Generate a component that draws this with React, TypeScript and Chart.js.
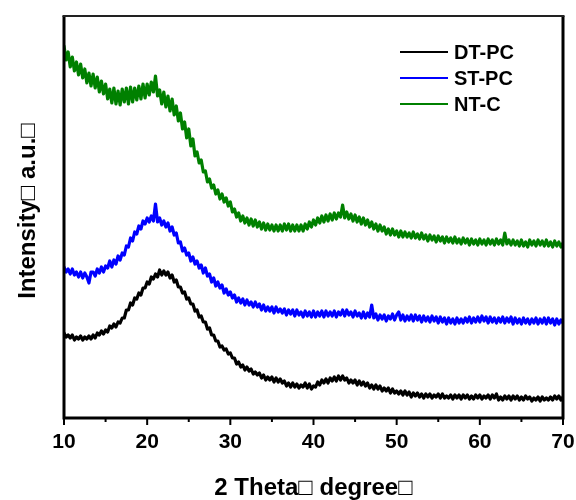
import React, { useEffect, useRef } from "react";
import { Chart, registerables } from "chart.js";

Chart.register(...registerables);

// 2θ from 10° to 70° in 0.25° steps (each row below = 2°)
const twoTheta: number[] = Array.from({ length: 241 }, (_, i) => 10 + i * 0.25);

const seriesNames = ["DT-PC", "ST-PC", "NT-C"];
const seriesColors = ["#000000", "#0000ff", "#008000"];

const dtpc = [
  85, 81, 83, 80, 83, 78, 81, 79,
  82, 78, 81, 79, 82, 79, 83, 80,
  85, 83, 87, 84, 88, 86, 92, 90,
  94, 91, 96, 95, 100, 100, 108, 108,
  115, 113, 120, 119, 125, 123, 130, 130,
  136, 134, 141, 139, 144, 141, 148, 143,
  147, 143, 146, 140, 143, 136, 138, 131,
  131, 125, 126, 119, 120, 114, 114, 107,
  108, 101, 102, 96, 96, 89, 90, 83,
  83, 77, 77, 71, 72, 68, 69, 64,
  65, 60, 60, 54, 56, 51, 53, 48,
  51, 47, 49, 44, 46, 43, 45, 40,
  43, 38, 41, 38, 41, 36, 40, 36,
  39, 35, 37, 32, 35, 31, 35, 31,
  34, 30, 33, 31, 35, 30, 34, 29,
  32, 31, 36, 33, 38, 35, 39, 35,
  40, 37, 41, 37, 42, 38, 42, 38,
  40, 35, 38, 35, 38, 33, 37, 33,
  36, 32, 35, 30, 33, 29, 33, 29,
  32, 27, 30, 27, 30, 25, 29, 25,
  27, 24, 27, 23, 27, 23, 26, 21,
  25, 22, 25, 21, 24, 20, 24, 21,
  24, 20, 23, 21, 24, 20, 24, 20,
  22, 20, 23, 19, 23, 20, 23, 19,
  23, 20, 23, 19, 22, 19, 23, 20,
  23, 19, 22, 20, 23, 19, 23, 20,
  24, 18, 21, 18, 22, 19, 22, 18,
  22, 19, 22, 18, 21, 18, 22, 19,
  21, 17, 20, 18, 21, 17, 21, 18,
  20, 18, 21, 18, 22, 19, 22, 18,
  21,
];

const stpc = [
  151, 146, 149, 144, 149, 143, 146, 141,
  146, 140, 145, 141, 135, 146, 146, 142,
  149, 145, 151, 146, 152, 150, 157, 151,
  158, 154, 162, 158, 165, 163, 172, 171,
  180, 177, 186, 184, 192, 189, 197, 194,
  200, 196, 202, 197, 214, 196, 200, 193,
  197, 191, 195, 187, 191, 183, 185, 175,
  176, 167, 170, 163, 165, 157, 161, 154,
  157, 150, 153, 145, 150, 142, 144, 136,
  140, 132, 136, 130, 133, 125, 129, 123,
  126, 120, 123, 116, 120, 115, 119, 113,
  118, 113, 116, 111, 116, 111, 114, 108,
  113, 107, 111, 107, 111, 105, 111, 106,
  109, 105, 109, 103, 108, 104, 108, 102,
  108, 103, 106, 101, 107, 102, 106, 101,
  107, 101, 106, 102, 107, 101, 107, 102,
  106, 102, 107, 101, 106, 103, 108, 102,
  108, 103, 106, 101, 107, 102, 105, 100,
  106, 100, 105, 101, 113, 100, 104, 98,
  103, 99, 103, 97, 102, 99, 104, 98,
  103, 106, 98, 103, 97, 102, 98, 103,
  97, 103, 98, 102, 96, 102, 97, 101,
  96, 102, 97, 101, 95, 101, 96, 100,
  94, 100, 95, 99, 94, 100, 95, 99,
  95, 100, 96, 101, 95, 100, 96, 101,
  96, 102, 97, 101, 95, 101, 96, 100,
  95, 100, 96, 101, 95, 100, 96, 101,
  94, 100, 95, 99, 94, 100, 95, 99,
  94, 99, 95, 100, 94, 99, 95, 100,
  94, 100, 95, 99, 93, 99, 94, 98,
  95,
];

const ntc = [
  372, 358, 366, 351, 361, 347, 356, 343,
  354, 340, 349, 335, 345, 332, 344, 330,
  341, 326, 337, 324, 334, 319, 329, 315,
  330, 314, 327, 313, 329, 316, 330, 314,
  331, 316, 330, 318, 332, 319, 334, 320,
  334, 323, 336, 326, 342, 322, 328, 314,
  326, 311, 322, 307, 319, 303, 312, 297,
  305, 289, 296, 280, 289, 272, 279, 262,
  266, 255, 258, 246, 247, 236, 239, 230,
  233, 224, 228, 219, 224, 216, 220, 212,
  216, 206, 209, 201, 205, 197, 202, 195,
  200, 193, 199, 192, 198, 191, 196, 189,
  195, 188, 194, 188, 193, 187, 193, 187,
  193, 187, 194, 188, 194, 187, 193, 187,
  193, 187, 193, 187, 194, 189, 196, 191,
  198, 193, 200, 195, 202, 196, 203, 197,
  204, 198, 205, 199, 205, 201, 213, 200,
  206, 199, 204, 197, 203, 196, 201, 194,
  200, 193, 198, 191, 196, 189, 194, 187,
  193, 187, 191, 184, 189, 183, 189, 183,
  187, 181, 187, 181, 186, 181, 185, 180,
  186, 180, 184, 179, 185, 179, 183, 177,
  183, 178, 182, 176, 182, 177, 181, 175,
  181, 176, 180, 175, 181, 175, 179, 174,
  180, 175, 179, 173, 179, 174, 178, 173,
  179, 174, 178, 173, 179, 174, 178, 173,
  179, 174, 178, 173, 185, 174, 178, 173,
  178, 173, 177, 172, 178, 172, 176, 171,
  178, 173, 177, 172, 178, 173, 177, 172,
  178, 172, 176, 171, 177, 172, 176, 171,
  175,
];

const xTicks = [10, 20, 30, 40, 50, 60, 70];
const xMinorTicks = [15, 25, 35, 45, 55, 65];
const xTitle = "2 Theta\u25A1 degree\u25A1";
const yTitle = "Intensity\u25A1 a.u.\u25A1";

const FONT = '"Liberation Sans", Arial, Helvetica, sans-serif';

const decor = {
  id: "decor",
  afterDraw(chart: any) {
    const { ctx, chartArea: a, scales } = chart;
    const x = scales.x;
    ctx.save();
    // frame
    ctx.strokeStyle = "#000";
    ctx.lineWidth = 3;
    ctx.beginPath();
    ctx.moveTo(a.left, a.top);
    ctx.lineTo(a.left, a.bottom);
    ctx.lineTo(a.right, a.bottom);
    ctx.lineTo(a.right, a.top);
    ctx.stroke();
    ctx.lineWidth = 2;
    ctx.strokeStyle = "#222";
    ctx.beginPath();
    ctx.moveTo(a.left - 1.5, a.top);
    ctx.lineTo(a.right + 1.5, a.top);
    ctx.stroke();
    // ticks + labels
    ctx.strokeStyle = "#000";
    ctx.fillStyle = "#000";
    ctx.lineWidth = 2;
    ctx.font = `bold 21px ${FONT}`;
    ctx.textAlign = "center";
    ctx.textBaseline = "middle";
    xTicks.forEach((v) => {
      const px = x.getPixelForValue(v);
      ctx.beginPath();
      ctx.moveTo(px, a.bottom);
      ctx.lineTo(px, a.bottom + 7);
      ctx.stroke();
      ctx.fillText(String(v), px, a.bottom + 24);
    });
    xMinorTicks.forEach((v) => {
      const px = x.getPixelForValue(v);
      ctx.beginPath();
      ctx.moveTo(px, a.bottom);
      ctx.lineTo(px, a.bottom + 4);
      ctx.stroke();
    });
    // axis titles
    ctx.font = `bold 24px ${FONT}`;
    ctx.fillText(xTitle, (a.left + a.right) / 2, 488);
    ctx.save();
    ctx.translate(28, (a.top + a.bottom) / 2 - 6);
    ctx.rotate(-Math.PI / 2);
    ctx.fillText(yTitle, 0, 0);
    ctx.restore();
    // legend
    ctx.font = `bold 20px ${FONT}`;
    ctx.textAlign = "left";
    chart.data.datasets.forEach((ds: any, i: number) => {
      const y = 52 + i * 26;
      ctx.strokeStyle = ds.borderColor;
      ctx.lineWidth = 2;
      ctx.beginPath();
      ctx.moveTo(400, y);
      ctx.lineTo(448, y);
      ctx.stroke();
      ctx.fillStyle = "#000";
      ctx.fillText(ds.label, 454, y + 1);
    });
    ctx.restore();
  },
};

export default function App() {
  const ref = useRef<HTMLCanvasElement | null>(null);
  useEffect(() => {
    if (!ref.current) return;
    const series = [dtpc, stpc, ntc];
    const chart = new Chart(ref.current, {
      type: "line",
      data: {
        datasets: series.map((s, i) => ({
          label: seriesNames[i],
          data: s.map((v, j) => ({ x: twoTheta[j], y: v })),
          borderColor: seriesColors[i],
          backgroundColor: seriesColors[i],
          borderWidth: 3.2,
          borderJoinStyle: "round",
          borderCapStyle: "round",
          pointRadius: 0,
          tension: 0,
        })),
      },
      options: {
        responsive: false,
        animation: false,
        layout: { padding: { left: 64, right: 13, top: 16, bottom: 82 } },
        plugins: { legend: { display: false }, tooltip: { enabled: false } },
        scales: {
          x: {
            type: "linear",
            display: false,
            min: 10,
            max: 70,
          },
          y: {
            display: false,
            min: 0,
            max: 402,
          },
        },
      },
      plugins: [decor],
    });
    return () => chart.destroy();
  }, []);
  return (
    <div style={{ position: "absolute", left: 0, top: 0, width: 576, height: 500, background: "#fff" }}>
      <canvas ref={ref} width={576} height={500} style={{ display: "block" }} />
    </div>
  );
}
